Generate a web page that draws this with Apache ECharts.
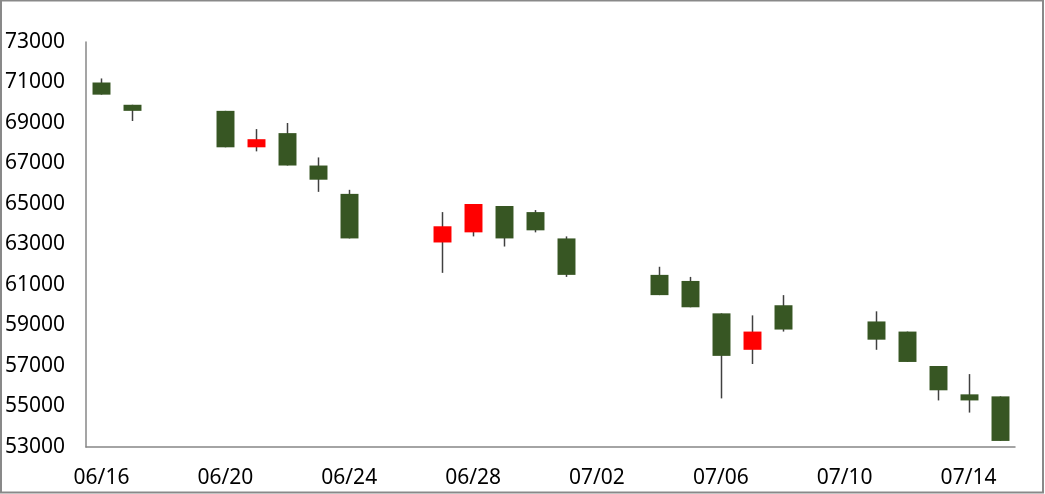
<!DOCTYPE html>
<html><head><meta charset="utf-8">
<script src="https://cdn.jsdelivr.net/npm/echarts@6/dist/echarts.min.js"></script>
<style>html,body{margin:0;padding:0;background:#fff}#c{width:1045px;height:494px}</style>
</head><body><div id="c"></div>
<script>
// all calendar days on the axis; trading days carry values
const dates = ['06/16','06/17','06/18','06/19','06/20','06/21','06/22','06/23','06/24','06/25','06/26','06/27','06/28','06/29','06/30','07/01','07/02','07/03','07/04','07/05','07/06','07/07','07/08','07/09','07/10','07/11','07/12','07/13','07/14','07/15'];
const tradeDates = ['06/16','06/17','06/20','06/21','06/22','06/23','06/24','06/27','06/28','06/29','06/30','07/01','07/04','07/05','07/06','07/07','07/08','07/11','07/12','07/13','07/14','07/15'];
const openV  = [71000,69900,69600,67800,68500,66900,65500,63100,63600,64900,64600,63300,61500,61200,59600,57800,60000,59200,58700,57000,55600,55500];
const closeV = [70400,69600,67800,68200,66900,66200,63300,63900,65000,63300,63700,61500,60500,59900,57500,58700,58800,58300,57200,55800,55300,53300];
const highV  = [71200,69900,69600,68700,69000,67300,65700,64600,65000,64900,64700,63400,61900,61400,59600,59500,60500,59700,58700,57000,56600,55500];
const lowV   = [70400,69100,67800,67600,66900,65600,63300,61600,63400,62900,63600,61400,60500,59900,55400,57100,58700,57800,57200,55300,54700,53300];
const yTicks = {min:53000, max:73000, step:2000};

const data = tradeDates.map((d,i)=>[dates.indexOf(d), openV[i], closeV[i], lowV[i], highV[i]]);

const chart = echarts.init(document.getElementById('c'), null, {renderer:'canvas'});
chart.setOption({
  animation:false,
  backgroundColor:'#fff',
  graphic:[{type:'rect',shape:{x:1,y:0.5,width:1042,height:492},style:{fill:'none',stroke:'#898989',lineWidth:2},z:100}],
  grid:{left:86,right:30,top:42,bottom:47,containLabel:false},
  xAxis:{type:'category',data:dates,boundaryGap:true,
    axisLine:{lineStyle:{color:'#878787',width:1.5}},axisTick:{show:false},
    axisLabel:{interval:3,color:'#000',fontFamily:'Noto Sans',fontSize:21,margin:21}},
  yAxis:{type:'value',min:yTicks.min,max:yTicks.max,interval:yTicks.step,
    axisLine:{show:true,lineStyle:{color:'#878787',width:1.5}},axisTick:{show:false},splitLine:{show:false},
    axisLabel:{color:'#000',fontFamily:'Noto Sans',fontSize:21,margin:21,formatter:v=>String(v)}},
  series:[{
    type:'custom',
    data:data,
    encode:{x:0,y:[1,2,3,4]},
    renderItem:function(params,api){
      const x=api.value(0),o=api.value(1),c=api.value(2),l=api.value(3),h=api.value(4);
      const pO=api.coord([x,o]),pC=api.coord([x,c]),pL=api.coord([x,l]),pH=api.coord([x,h]);
      const w=api.size([1,0])[0]*0.58;
      const cx=Math.round(pO[0])+0.5;
      const top=Math.min(pO[1],pC[1]),bot=Math.max(pO[1],pC[1]);
      const col = c>o ? '#FF0000' : '#375623';
      return {type:'group',children:[
        {type:'line',shape:{x1:cx,y1:pH[1],x2:cx,y2:pL[1]},style:{stroke:'#404040',lineWidth:1.5}},
        {type:'rect',shape:{x:cx-w/2,y:top,width:w,height:Math.max(bot-top,1)},style:{fill:col}}
      ]};
    }
  }]
});
</script></body></html>
